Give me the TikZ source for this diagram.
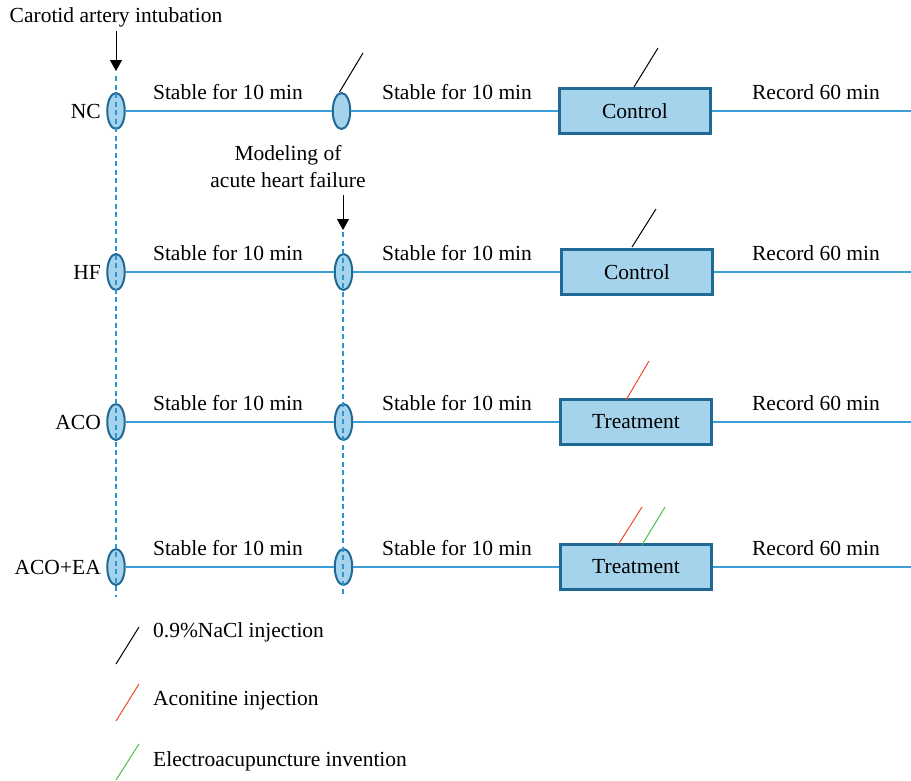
\documentclass[tikz,border=0pt]{standalone}
\usepackage{fontspec}
\setmainfont{Liberation Serif}
\usetikzlibrary{shapes.geometric,arrows.meta}
\definecolor{lineblue}{HTML}{3A9FD8}
\definecolor{guideblue}{HTML}{2F95D0}
\definecolor{fillblue}{HTML}{A6D3EC}
\definecolor{edgeblue}{HTML}{1F6A95}
\definecolor{injred}{HTML}{F0492E}
\definecolor{injgreen}{HTML}{4CC04C}
\begin{document}
\begin{tikzpicture}[x=1pt,y=-1pt,
  every node/.style={font=\fontsize{21.5}{27}\selectfont, inner sep=0pt},
  stage/.style={ellipse, draw=edgeblue, fill=fillblue, line width=2pt, minimum width=17.5pt, minimum height=36pt},
  groupbox/.style={rectangle, draw=edgeblue, fill=fillblue, line width=2.2pt, minimum width=151pt, minimum height=45pt},
  timeline/.style={draw=lineblue, line width=1.3pt},
  guide/.style={draw=guideblue, line width=1.2pt, dash pattern=on 5pt off 3.5pt},
  injline/.style={line width=1pt},
  down/.style={-{Triangle[length=11pt,width=12pt]}, line width=1pt, black},
  rowlabel/.style={anchor=east},
  note/.style={anchor=west}
]
\useasboundingbox (0,0) rectangle (911,780);

% top annotations
\node (cai) at (116,17) {Carotid artery intubation};
\coordinate (a1s) at (116,31);
\coordinate (a1e) at (116,71);
\node[align=center] (mod) at (288,167) {Modeling of\\acute heart failure};
\coordinate (a2s) at (343,195);
\coordinate (a2e) at (343,230);

% rows
\foreach \r/\y/\lab/\bx/\bt in {nc/111/NC/635/Control, hf/272/HF/637/Control, aco/422/ACO/636/Treatment, ea/567/ACO+EA/636/Treatment}{
  \node[rowlabel] (l\r) at (101,\y) {\lab};
  \node[stage] (e1\r) at (116,\y) {};
  \node[groupbox] (b\r) at (\bx,\y) {\bt};
  \coordinate (end\r) at (911,\y);
  \node (s1\r) at (228,\y-19) {Stable for 10 min};
  \node (s2\r) at (457,\y-19) {Stable for 10 min};
  \node (rec\r) at (816,\y-19) {Record 60 min};
}
\node[stage] (e2nc) at (341.5,111) {};
\node[stage] (e2hf) at (343.5,272) {};
\node[stage] (e2aco) at (343.5,422) {};
\node[stage] (e2ea) at (343.5,567) {};

\foreach \r in {nc,hf,aco,ea}{
  \draw[timeline] (e1\r.east) -- (e2\r.west);
  \draw[timeline] (e2\r.east) -- (b\r.west);
  \draw[timeline] (b\r.east) -- (end\r);
}

% guides
\coordinate (g1t) at (116,76);
\coordinate (g1b) at (116,597);
\coordinate (g2t) at (343,232);
\coordinate (g2b) at (343,597);
\draw[guide] (g1t) -- (g1b);
\draw[guide] (g2t) -- (g2b);
\draw[down] (a1s) -- (a1e);
\draw[down] (a2s) -- (a2e);

% injection marks
\coordinate (m1) at (363,53);
\draw[injline] (e2nc.north) ++(-2,0) -- (m1);
\coordinate (m2a) at (634,87);  \coordinate (m2b) at (658,48);
\draw[injline] (m2a) -- (m2b);
\coordinate (m3a) at (632,247); \coordinate (m3b) at (656,209);
\draw[injline] (m3a) -- (m3b);
\coordinate (m4a) at (626,400); \coordinate (m4b) at (649,361);
\draw[injline, injred] (m4a) -- (m4b);
\coordinate (m5a) at (618,545); \coordinate (m5b) at (642,507);
\draw[injline, injred] (m5a) -- (m5b);
\coordinate (m6a) at (642,545); \coordinate (m6b) at (665,507);
\draw[injline, injgreen] (m6a) -- (m6b);

% legend
\coordinate (k1a) at (116,664); \coordinate (k1b) at (139,627);
\draw[injline] (k1a) -- (k1b);
\node[note] (t1) at (153,632) {0.9\%NaCl injection};
\coordinate (k2a) at (116,721); \coordinate (k2b) at (139,684);
\draw[injline, injred] (k2a) -- (k2b);
\node[note] (t2) at (153,701) {Aconitine injection};
\coordinate (k3a) at (116,780); \coordinate (k3b) at (139,744);
\draw[injline, injgreen] (k3a) -- (k3b);
\node[note] (t3) at (153,761) {Electroacupuncture invention};
\end{tikzpicture}
\end{document}
